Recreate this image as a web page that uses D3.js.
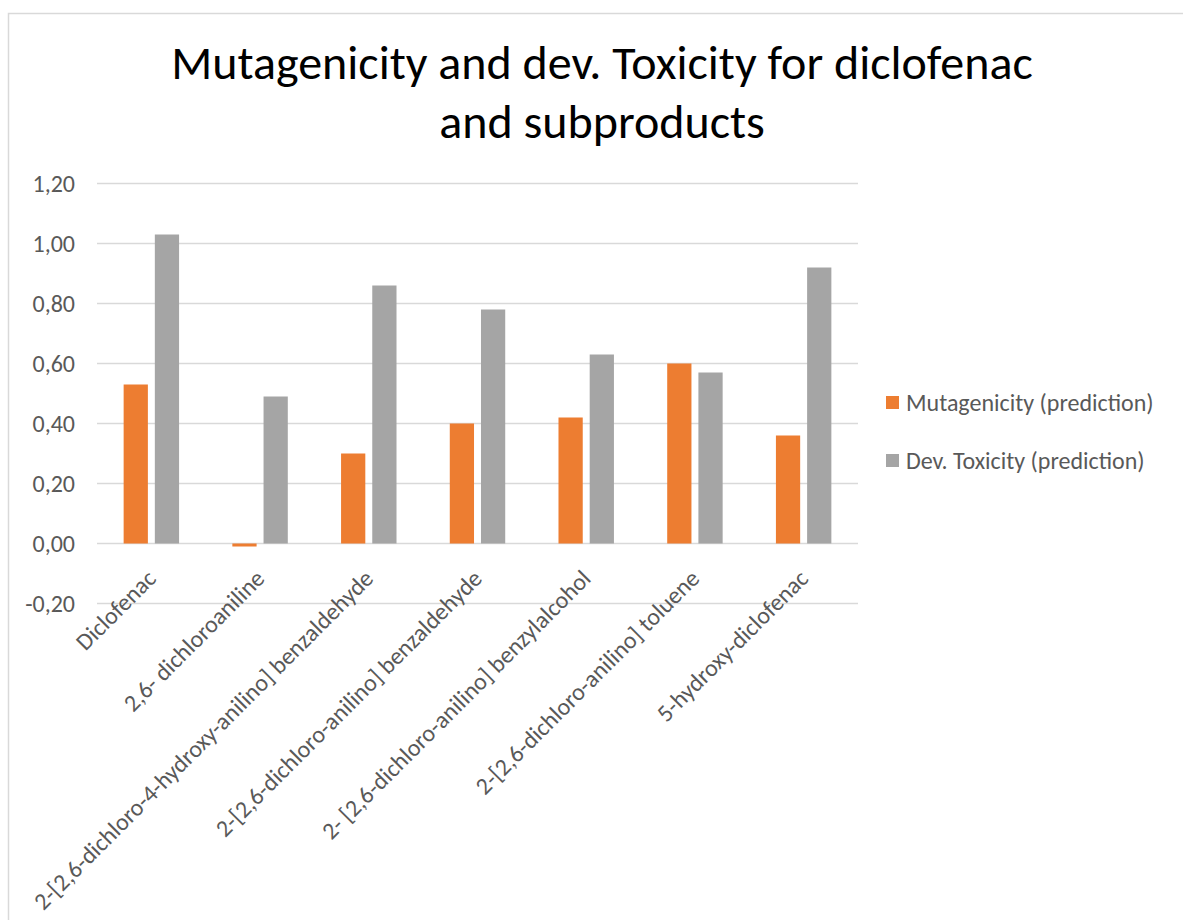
<!DOCTYPE html>
<html>
<head>
<meta charset="utf-8">
<script src="https://cdn.jsdelivr.net/npm/d3@7"></script>
<style>
  body { margin: 0; background: #fff; }
  svg text { font-family: Carlito, Lato, sans-serif; }
</style>
</head>
<body>
<div id="chart"></div>
<script>
// Data
var categories = [
    "Diclofenac",
    "2,6- dichloroaniline",
    "2-[2,6-dichloro-4-hydroxy-anilino] benzaldehyde",
    "2-[2,6-dichloro-anilino] benzaldehyde",
    "2- [2,6-dichloro-anilino] benzylalcohol",
    "2-[2,6-dichloro-anilino] toluene",
    "5-hydroxy-diclofenac"
];
var mutagenicity = [0.53, -0.01, 0.30, 0.40, 0.42, 0.60, 0.36];
var devToxicity = [1.03, 0.49, 0.86, 0.78, 0.63, 0.57, 0.92];
var seriesNames = ["Mutagenicity (prediction)", "Dev. Toxicity (prediction)"];
var yTicks = [-0.2, 0, 0.2, 0.4, 0.6, 0.8, 1.0, 1.2];

var titleLines = ["Mutagenicity and dev. Toxicity for diclofenac", "and subproducts"];

// Colours
var seriesColor = d3.scaleOrdinal()
    .domain(seriesNames)
    .range(["#ED7D31", "#A5A5A5"]);

var width = 1183;
var height = 920;

// comma decimal format
var locale = d3.formatLocale({ decimal: ",", thousands: ".", grouping: [3], currency: ["", ""], minus: "-" });
var fmt = locale.format(".2f");

var svg = d3.select("#chart").append("svg")
    .attr("width", width)
    .attr("height", height);

// chart area border
svg.append("rect")
    .attr("x", 8.5)
    .attr("y", 13.5)
    .attr("width", 1300)
    .attr("height", 1200)
    .attr("fill", "#fff")
    .attr("stroke", "#d9d9d9")
    .attr("stroke-width", 1.5);

// Title
svg.append("text")
    .attr("text-anchor", "middle")
    .attr("font-size", "48px")
    .attr("fill", "#000")
    .selectAll("tspan")
    .data(titleLines)
    .enter().append("tspan")
    .attr("x", 602)
    .attr("y", function (d, i) { return 79 + i * 59; })
    .text(function (d) { return d; });

// Scales
var x = d3.scaleBand()
    .domain(categories)
    .range([97, 858]);

var y = d3.scaleLinear()
    .domain([-0.2, 1.2])
    .range([603.5, 183.5]);

var barW = x.bandwidth() * 0.223;
var barGap = x.bandwidth() * 0.064;

// Gridlines
svg.append("g")
    .attr("class", "grid")
    .selectAll("line")
    .data(yTicks)
    .enter().append("line")
    .attr("x1", x.range()[0])
    .attr("x2", x.range()[1])
    .attr("y1", function (d) { return y(d); })
    .attr("y2", function (d) { return y(d); })
    .attr("stroke", "#d9d9d9")
    .attr("stroke-width", 1.5);

// Y axis labels
var yAxis = d3.axisLeft(y)
    .tickValues(yTicks)
    .tickFormat(fmt)
    .tickSize(0)
    .tickPadding(0);

var yg = svg.append("g")
    .attr("transform", "translate(75,0)")
    .call(yAxis);
yg.select(".domain").remove();
yg.selectAll("text")
    .attr("font-size", "24px")
    .attr("fill", "#595959")
    .attr("font-family", "Carlito, Lato, sans-serif");

// Bars
var rows = categories.map(function (c, i) {
    return { cat: c, values: [mutagenicity[i], devToxicity[i]] };
});

var groups = svg.append("g").selectAll("g")
    .data(rows)
    .enter().append("g")
    .attr("transform", function (d) { return "translate(" + (x(d.cat) + x.bandwidth() / 2) + ",0)"; });

groups.selectAll("rect")
    .data(function (d) { return d.values.map(function (v, j) { return { v: v, s: seriesNames[j], j: j }; }); })
    .enter().append("rect")
    .attr("x", function (d) { return d.j === 0 ? -barGap / 2 - barW : barGap / 2; })
    .attr("width", barW)
    .attr("y", function (d) { return y(Math.max(0, d.v)); })
    .attr("height", function (d) { return Math.abs(y(d.v) - y(0)); })
    .attr("fill", function (d) { return seriesColor(d.s); });

// X labels, rotated
svg.append("g").selectAll("text")
    .data(categories)
    .enter().append("text")
    .attr("transform", function (d) {
        return "translate(" + (x(d) + x.bandwidth() / 2 + 6) + ",580) rotate(-45)";
    })
    .attr("text-anchor", "end")
    .attr("font-size", "24px")
    .attr("fill", "#595959")
    .text(function (d) { return d; });

// Legend
var legend = svg.append("g").selectAll("g")
    .data(seriesNames)
    .enter().append("g")
    .attr("transform", function (d, i) { return "translate(886," + (396 + i * 58) + ")"; });

legend.append("rect")
    .attr("width", 13)
    .attr("height", 13)
    .attr("fill", function (d) { return seriesColor(d); });

legend.append("text")
    .attr("x", 20)
    .attr("y", 6.5)
    .attr("dy", "0.35em")
    .attr("font-size", "24px")
    .attr("fill", "#595959")
    .text(function (d) { return d; });
</script>
</body>
</html>
